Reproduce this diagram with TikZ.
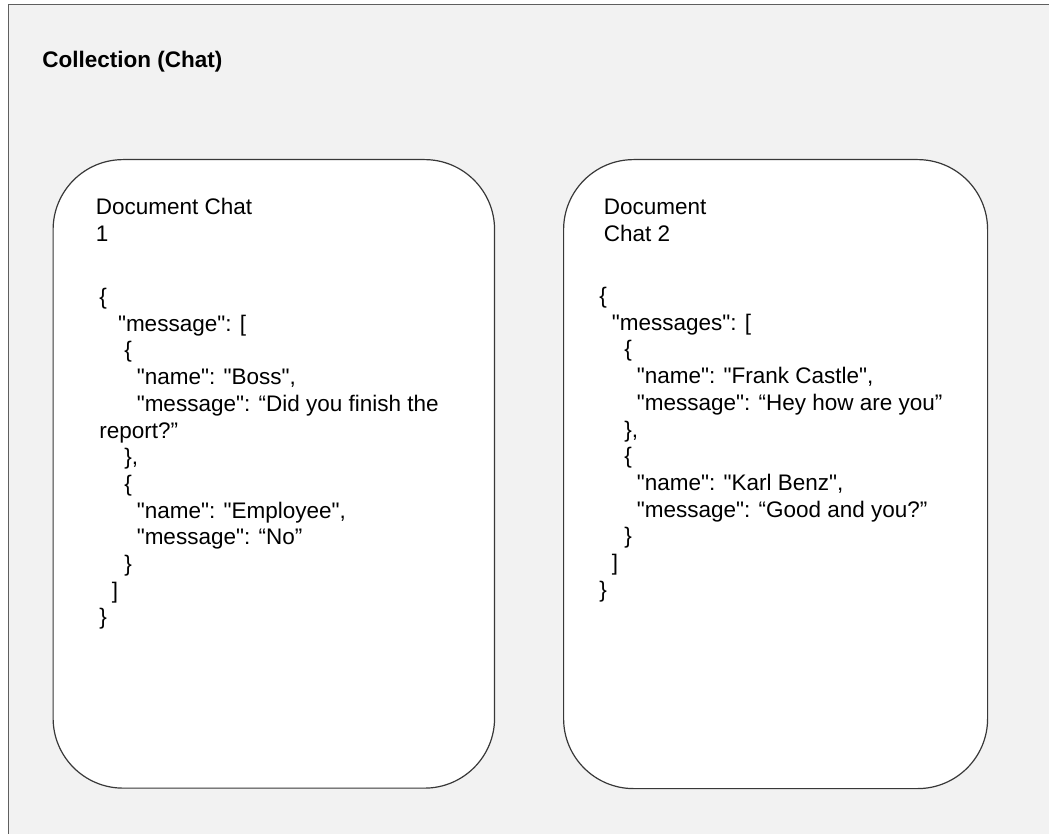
\documentclass[tikz,border=0pt]{standalone}
\usepackage{fontspec}
\setmainfont{Liberation Sans}[Ligatures=TeXOff]
\definecolor{canvas}{HTML}{F2F2F2}
\definecolor{framegray}{HTML}{5F5F5F}
\definecolor{cardline}{HTML}{383838}
\begin{document}
\begin{tikzpicture}[x=0.75pt,y=-0.75pt,
  txt/.style={anchor=base west, inner sep=0pt, font=\fontsize{16.875}{20}\selectfont},
  card/.style={draw=cardline, fill=white, line width=0.9pt, rounded corners=52.5pt,
               anchor=north west, inner sep=0pt}]
  \useasboundingbox (0,0) rectangle (1049,834);
  \fill[white] (0,0) rectangle (1049,834);
  % collection frame (runs past the right and lower edges)
  \draw[framegray, fill=canvas, line width=0.75pt] (8,5) rectangle (1075,860);
  \node[txt, font=\bfseries\fontsize{16.875}{20}\selectfont] (title) at (42,68) {Collection (Chat)};

  % the two document cards
  \node[card, minimum width=331.1pt, minimum height=471.4pt] (doc1) at (52.5,159) {};
  \node[card, minimum width=318pt, minimum height=471.75pt] (doc2) at (563,159) {};

  % card headings
  \node[txt] (h1a) at (95.5,215) {Document Chat};
  \node[txt] (h1b) at (95.5,242) {1};
  \node[txt] (h2a) at (603.5,215) {Document};
  \node[txt] (h2b) at (603.5,241.7) {Chat 2};

  % JSON body of the first document: line / indent (spaces) / text
  \foreach \k/\s/\t in {
      0/0/{\{},
      1/3/{"message": [},
      2/4/{\{},
      3/6/{"name": "Boss",},
      4/6/{"message": “Did you finish the},
      5/0/{report?”},
      6/4/{\},},
      7/4/{\{},
      8/6/{"name": "Employee",},
      9/6/{"message": “No”},
      10/4/{\}},
      11/2/{]},
      12/0/{\}}}
    \node[txt] (ja-\k) at ({99+6.25*\s},{304.5+26.7*\k}) {\t};

  % JSON body of the second document
  \foreach \k/\s/\t in {
      0/0/{\{},
      1/2/{"messages": [},
      2/4/{\{},
      3/6/{"name": "Frank Castle",},
      4/6/{"message": “Hey how are you”},
      5/4/{\},},
      6/4/{\{},
      7/6/{"name": "Karl Benz",},
      8/6/{"message": “Good and you?”},
      9/4/{\}},
      10/2/{]},
      11/0/{\}}}
    \node[txt] (jb-\k) at ({599+6.25*\s},{303.5+26.7*\k}) {\t};
\end{tikzpicture}
\end{document}
